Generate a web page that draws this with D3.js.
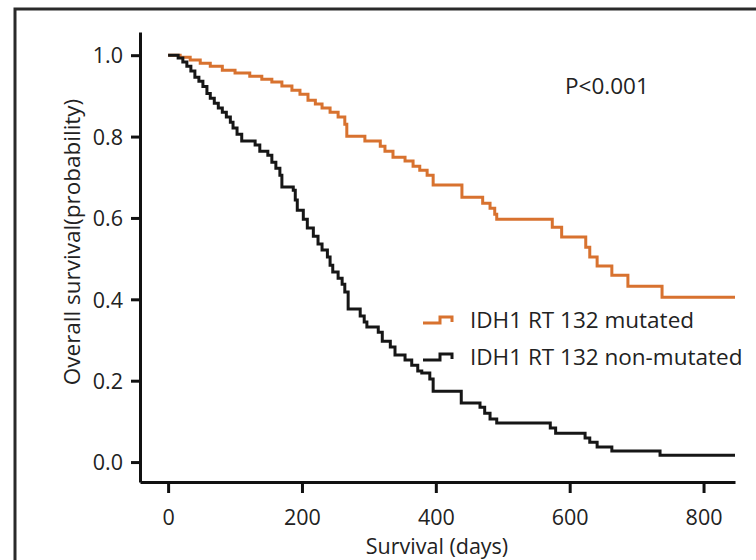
<!DOCTYPE html>
<html>
<head>
<meta charset="utf-8">
<script src="https://cdn.jsdelivr.net/npm/d3@7"></script>
<style>
  body { margin: 0; background: #fff; }
  svg text { font-family: "Open Sans", sans-serif; fill: #222; }
</style>
</head>
<body>
<div id="chart"></div>
<script>
// survival curves (days, probability)
var mutDays = [0, 18, 33, 48, 63, 81, 100, 122, 140, 155, 170, 185, 197, 209, 220, 230, 242, 254, 264, 267,
    294, 317, 324, 336, 354, 366, 376, 387, 396, 439, 470, 481, 488, 491, 574, 588, 624, 630, 641, 663, 687, 738, 847];
var mutSurv = [1.0, 0.995, 0.988, 0.980, 0.973, 0.963, 0.956, 0.948, 0.941, 0.934, 0.924, 0.914, 0.904, 0.889, 0.880, 0.870, 0.860, 0.848, 0.830, 0.801,
    0.789, 0.776, 0.764, 0.749, 0.740, 0.727, 0.717, 0.705, 0.681, 0.651, 0.636, 0.624, 0.609, 0.597, 0.577, 0.553, 0.528, 0.504, 0.482, 0.459, 0.432, 0.405, 0.405];

var nonDays = [0, 15, 22, 28, 34, 40, 46, 52, 58, 63, 69, 75, 81, 87, 93, 97, 103, 110, 130, 137, 149, 155, 161, 167, 170,
    187, 190, 193, 202, 208, 217, 224, 230, 238, 242, 246, 254, 260, 264, 269, 287, 293, 297, 314, 320, 332, 339, 354,
    364, 373, 379, 391, 396, 438, 466, 473, 481, 491, 571, 579, 623, 630, 641, 663, 735, 847];
var nonSurv = [1.0, 0.993, 0.983, 0.973, 0.961, 0.946, 0.936, 0.923, 0.906, 0.894, 0.882, 0.870, 0.860, 0.848, 0.835, 0.821, 0.806, 0.789, 0.779, 0.764, 0.754, 0.737, 0.722, 0.705, 0.676,
    0.668, 0.644, 0.619, 0.597, 0.575, 0.555, 0.536, 0.521, 0.504, 0.484, 0.467, 0.452, 0.437, 0.418, 0.376, 0.359, 0.344, 0.332, 0.319, 0.297, 0.283, 0.263, 0.251,
    0.238, 0.224, 0.219, 0.204, 0.174, 0.145, 0.135, 0.120, 0.106, 0.096, 0.084, 0.071, 0.059, 0.049, 0.037, 0.027, 0.017, 0.017];

var xTicks = [0, 200, 400, 600, 800];
var yTicks = [0, 0.2, 0.4, 0.6, 0.8, 1.0];
var seriesNames = ["IDH1 RT 132 mutated", "IDH1 RT 132 non-mutated"];
var colors = ["#d8722f", "#161616"];

var W = 756, H = 560;

var svg = d3.select("#chart").append("svg")
    .attr("width", W)
    .attr("height", H);

// outer frame, runs off the right and bottom edges
svg.append("rect")
    .attr("x", 15).attr("y", 9)
    .attr("width", 800).attr("height", 600)
    .attr("fill", "none")
    .attr("stroke", "#2a2a2a")
    .attr("stroke-width", 3);

var x = d3.scaleLinear().domain([-42, 847]).range([140, 735]);
var y = d3.scaleLinear().domain([-0.049, 1.057]).range([482, 32]);

var xAxis = svg.append("g")
    .attr("transform", "translate(0,482)")
    .call(d3.axisBottom(x).tickValues(xTicks).tickSize(11).tickSizeOuter(0).tickPadding(17));

var yAxis = svg.append("g")
    .attr("transform", "translate(140,0)")
    .call(d3.axisLeft(y).tickValues(yTicks).tickFormat(d3.format(".1f")).tickSize(9).tickSizeOuter(0).tickPadding(8));

[xAxis, yAxis].forEach(function(g) {
    g.select(".domain").attr("stroke", "#111").attr("stroke-width", 3);
    g.selectAll(".tick line").attr("stroke", "#111").attr("stroke-width", 3);
    g.selectAll(".tick text")
        .attr("fill", "#222")
        .style("font-family", "'Open Sans', sans-serif")
        .style("font-size", "21.5px");
});
yAxis.selectAll(".tick text").attr("dy", "0.36em");

var line = d3.line()
    .x(function(d) { return x(d[0]); })
    .y(function(d) { return y(d[1]); })
    .curve(d3.curveStepAfter);

var series = [
    d3.zip(mutDays, mutSurv),
    d3.zip(nonDays, nonSurv)
];

svg.selectAll(".km")
    .data(series)
    .enter()
    .append("path")
    .attr("class", "km")
    .attr("d", line)
    .attr("fill", "none")
    .attr("stroke", function(d, i) { return colors[i]; })
    .attr("stroke-width", 3);

// axis titles
svg.append("text")
    .attr("x", 437).attr("y", 554)
    .attr("text-anchor", "middle")
    .style("font-size", "21.5px")
    .text("Survival (days)");

svg.append("text")
    .attr("transform", "translate(80,242) rotate(-90)")
    .attr("text-anchor", "middle")
    .style("font-size", "22.5px")
    .text("Overall survival(probability)");

svg.append("text")
    .attr("x", 565).attr("y", 94)
    .style("font-size", "22.5px")
    .text("P<0.001");

// legend with small step symbols
var legend = svg.selectAll(".leg")
    .data(seriesNames)
    .enter()
    .append("g")
    .attr("class", "leg")
    .attr("transform", function(d, i) { return "translate(423," + (323 + i * 37) + ")"; });

legend.append("path")
    .attr("d", "M0,0H17V-6H29V-1")
    .attr("fill", "none")
    .attr("stroke", function(d, i) { return colors[i]; })
    .attr("stroke-width", 3);

legend.append("text")
    .attr("x", 47).attr("y", 5)
    .style("font-size", "22.5px")
    .text(function(d) { return d; });
</script>
</body>
</html>
